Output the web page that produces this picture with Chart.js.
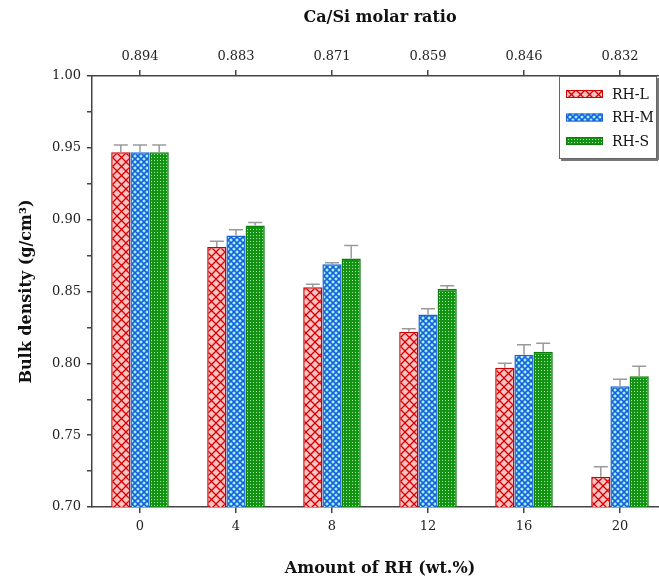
<!DOCTYPE html>
<html>
<head>
<meta charset="utf-8">
<script src="https://cdn.jsdelivr.net/npm/chart.js@4.4.1/dist/chart.umd.min.js"></script>
<style>
  html, body { margin: 0; padding: 0; background: #fff; overflow: hidden; }
  #wrap { width: 680px; height: 583px; }
</style>
</head>
<body>
<div id="wrap"><canvas id="chart" width="680" height="583"></canvas></div>
<script>
// data
const rhAmount = ['0', '4', '8', '12', '16', '20'];
const caSiRatio = ['0.894', '0.883', '0.871', '0.859', '0.846', '0.832'];
const rhL = [0.947, 0.881, 0.853, 0.822, 0.797, 0.721];
const rhM = [0.947, 0.889, 0.869, 0.834, 0.806, 0.784];
const rhS = [0.947, 0.896, 0.873, 0.852, 0.808, 0.791];
const errL = [0.005, 0.004, 0.002, 0.002, 0.003, 0.007];
const errM = [0.005, 0.004, 0.001, 0.004, 0.007, 0.005];
const errS = [0.005, 0.002, 0.009, 0.002, 0.006, 0.007];

const FONT = "'DejaVu Serif', 'Liberation Serif', serif";

// hatch fills
function makePattern(kind) {
    const c = document.createElement('canvas');
    const g = c.getContext('2d');
    if (kind === 'red') {
        c.width = c.height = 9;
        g.fillStyle = '#ffc2c2'; g.fillRect(0, 0, 9, 9);
        g.strokeStyle = '#d10000'; g.lineWidth = 1.3;
        g.beginPath();
        g.moveTo(-1, -1); g.lineTo(10, 10);
        g.moveTo(10, -1); g.lineTo(-1, 10);
        g.stroke();
    } else if (kind === 'blue') {
        c.width = c.height = 6;
        g.fillStyle = '#a8f0ff'; g.fillRect(0, 0, 6, 6);
        g.strokeStyle = '#1763d6'; g.lineWidth = 1.6;
        g.beginPath();
        g.moveTo(-1, -1); g.lineTo(7, 7);
        g.moveTo(7, -1); g.lineTo(-1, 7);
        g.stroke();
    } else {
        c.width = c.height = 3;
        g.fillStyle = '#139213'; g.fillRect(0, 0, 3, 3);
        g.fillStyle = '#a6e6a6'; g.fillRect(1, 1, 1, 1);
    }
    return g.createPattern(c, 'repeat');
}

const errorBars = {
    id: 'errorBars',
    afterDatasetsDraw(chart) {
        const ctx = chart.ctx, y = chart.scales.y;
        ctx.save();
        ctx.strokeStyle = '#9a9a9a';
        ctx.lineWidth = 1.5;
        chart.data.datasets.forEach((ds, i) => {
            chart.getDatasetMeta(i).data.forEach((bar, j) => {
                const top = y.getPixelForValue(ds.data[j] + ds.err[j]);
                ctx.beginPath();
                ctx.moveTo(bar.x, bar.y);
                ctx.lineTo(bar.x, top);
                ctx.moveTo(bar.x - 7, top);
                ctx.lineTo(bar.x + 7, top);
                ctx.stroke();
            });
        });
        ctx.restore();
    }
};

const legendBox = {
    id: 'legendBox',
    afterDraw(chart) {
        const ctx = chart.ctx;
        const x0 = 559, y0 = 76, w = 97, h = 82;
        ctx.save();
        ctx.fillStyle = '#fff';
        ctx.fillRect(x0, y0, w, h);
        ctx.strokeStyle = '#666';
        ctx.lineWidth = 1;
        ctx.strokeRect(x0 + 0.5, y0 + 0.5, w, h);
        ctx.fillStyle = '#777';
        ctx.fillRect(x0 + 2, y0 + h + 1, w, 2);
        ctx.fillRect(x0 + w + 1, y0 + 2, 2, h);
        ctx.font = '14px ' + FONT;
        ctx.textBaseline = 'middle';
        chart.data.datasets.forEach((ds, i) => {
            const cy = 94 + i * 23.5;
            ctx.fillStyle = ds.backgroundColor;
            ctx.fillRect(566, cy - 4, 37, 8);
            ctx.strokeStyle = ds.borderColor;
            ctx.lineWidth = 1;
            ctx.strokeRect(566.5, cy - 3.5, 36, 7);
            ctx.fillStyle = '#111';
            ctx.fillText(ds.label, 612, cy + 1);
        });
        ctx.restore();
    }
};

const axisColor = '#444';
const tickFont = { family: FONT, size: 13 };
const titleFont = { family: FONT, size: 16, weight: 'bold' };

const ctx = document.getElementById('chart').getContext('2d');
new Chart(ctx, {
    type: 'bar',
    data: {
        labels: rhAmount,
        datasets: [
            { label: 'RH-L', data: rhL, err: errL, backgroundColor: makePattern('red'), borderColor: '#d10000', borderWidth: 1.5 },
            { label: 'RH-M', data: rhM, err: errM, backgroundColor: makePattern('blue'), borderColor: '#1763d6', borderWidth: 1.5 },
            { label: 'RH-S', data: rhS, err: errS, backgroundColor: makePattern('green'), borderColor: '#0f7f0f', borderWidth: 1.5 }
        ]
    },
    options: {
        responsive: false,
        animation: false,
        layout: { padding: { left: 0, right: 12, top: 0, bottom: 0 } },
        datasets: { bar: { categoryPercentage: 0.6, barPercentage: 1.0 } },
        plugins: { legend: { display: false }, tooltip: { enabled: false } },
        scales: {
            x: {
                position: 'bottom',
                offset: true,
                grid: { offset: false, drawOnChartArea: false, tickLength: 6, color: axisColor, lineWidth: 1.5 },
                border: { color: axisColor, width: 1.5 },
                ticks: { color: '#222', font: tickFont, padding: 6 },
                title: { display: true, text: 'Amount of RH (wt.%)', color: '#111', font: titleFont, padding: { top: 4, bottom: 5 } },
                afterFit(s) { s.height = 76; }
            },
            x2: {
                type: 'category',
                labels: caSiRatio,
                position: 'top',
                offset: true,
                grid: { offset: false, drawOnChartArea: false, tickLength: 6, color: axisColor, lineWidth: 1.5 },
                border: { color: axisColor, width: 1.5 },
                ticks: { color: '#222', font: tickFont, padding: 6 },
                title: { display: true, text: 'Ca/Si molar ratio', color: '#111', font: titleFont, padding: { top: 8, bottom: 4 } },
                afterFit(s) { s.height = 76; }
            },
            y: {
                min: 0.70,
                max: 1.00,
                grid: { drawOnChartArea: false, tickLength: 5, color: axisColor, lineWidth: 1.5 },
                border: { color: axisColor, width: 1.5 },
                ticks: {
                    stepSize: 0.025,
                    color: '#222',
                    font: tickFont,
                    padding: 6,
                    autoSkip: false,
                    callback: v => Math.round(v * 1000) % 50 === 0 ? v.toFixed(2) : ''
                },
                title: { display: true, text: 'Bulk density (g/cm³)', color: '#111', font: titleFont, padding: { top: 17, bottom: 0 } },
                afterFit(s) { s.width = 92; }
            }
        }
    },
    plugins: [errorBars, legendBox]
});
</script>
</body>
</html>
